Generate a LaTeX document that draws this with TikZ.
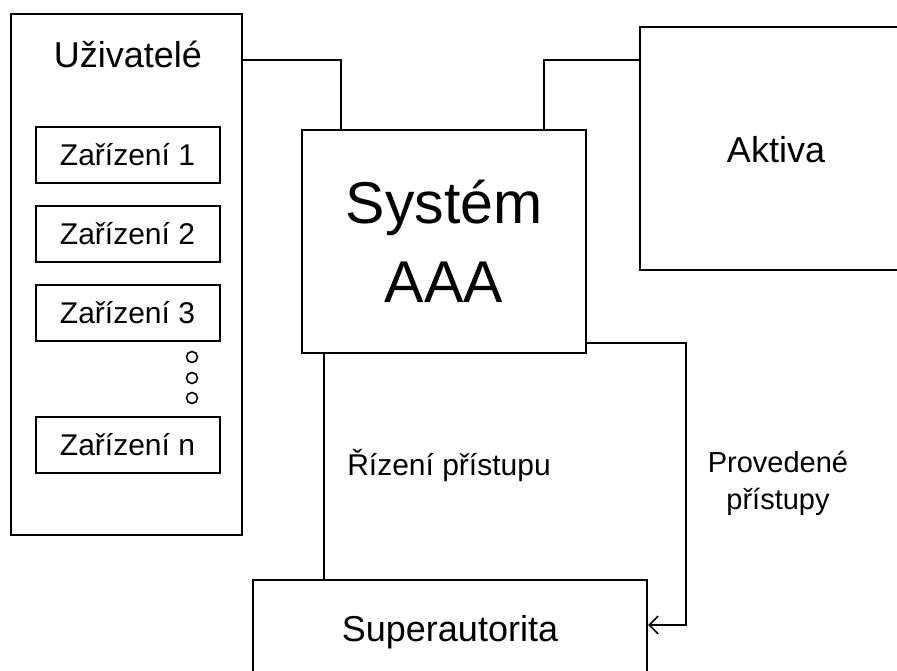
\documentclass[tikz,border=0pt]{standalone}
\usepackage{fontspec}
\setmainfont{Liberation Sans}
\usetikzlibrary{positioning,arrows.meta}

\tikzset{%
        every node/.style = {font = \fontsize{30}{37}\selectfont},
        box/.style = {rectangle, draw, line width = 2pt, inner sep = 0pt},
        group/.style = {box},
        device/.style = {box, minimum width = 184pt, minimum height = 56pt},
        core/.style = {box, font = \fontsize{59}{79}\selectfont, align = center},
        bigbox/.style = {box, font = \fontsize{36}{43}\selectfont},
        dot/.style = {circle, draw, line width = 1.6pt, minimum size = 11pt, inner sep = 0pt},
        link/.style = {line width = 2pt, draw = black},
        flowarrow/.style = {link, -{Straight Barb[length = 9pt, width = 18pt, line width = 1.6pt]}}
    }

\begin{document}
\begin{tikzpicture}[x = 1pt, y = -1pt]
				\useasboundingbox (0,0) rectangle (897,671);
				\node[group, minimum width = 231pt, minimum height = 521pt]		(users)		at (126.5,274.5)	{};
				\node[anchor = base, font = \fontsize{36}{43}\selectfont]			(userstitle)	at (128,68)		{Uživatelé};
				\node[device]							(dev1)		at (127.5,155)		{Zařízení 1};
				\node[device]							(dev2)		[below = 21pt of dev1]	{Zařízení 2};
				\node[device]							(dev3)		[below = 21pt of dev2]	{Zařízení 3};
				\node[dot]							(dot1)		at (192,357)		{};
				\node[dot]							(dot2)		at (192,378)		{};
				\node[dot]							(dot3)		at (192,398)		{};
				\node[device]							(devn)		at (127.5,444.5)	{Zařízení n};

				\node[core, minimum width = 284pt, minimum height = 223pt]		(aaa)		at (444,241.5)		{Systém\\AAA};
				\node[bigbox, minimum width = 272pt, minimum height = 243pt, text height = 29pt]	(assets)	at (776,148.5)	{Aktiva};
				\node[bigbox, minimum width = 394pt, minimum height = 104pt]		(super)		at (450,632)		{Superautorita};

				\node[anchor = base]						(control)		at (449,475)		{Řízení přístupu};
				\node[align = center, font = \fontsize{29}{37}\selectfont]		(done)		at (778,483)		{Provedené\\přístupy};

				\draw[link] ([yshift = -47pt]users.north east) -| ([xshift = 40pt]aaa.north west);
				\draw[link] ([yshift = -34pt]assets.north west) -| ([xshift = -43pt]aaa.north east);
				\draw[link] ([xshift = 23pt]aaa.south west) -- ([xshift = 23pt]aaa.south west |- super.north);
				\draw[flowarrow] ([yshift = 11pt]aaa.south east) -| ([xshift = 38pt, yshift = 7pt]super.east) -- ([yshift = 7pt]super.east);
\end{tikzpicture}
\end{document}
